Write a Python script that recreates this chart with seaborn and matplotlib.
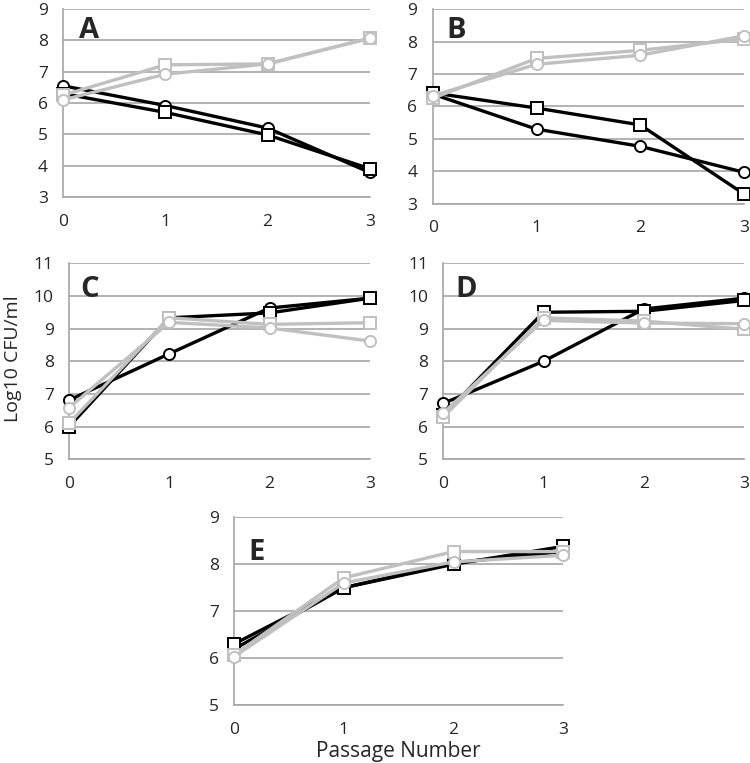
import numpy as np
import pandas as pd
import matplotlib
matplotlib.use("Agg")
import matplotlib.pyplot as plt
import seaborn as sns

# --- data ---
passages = [0, 1, 2, 3]

a_black_circle = [6.55, 5.92, 5.20, 3.78]
a_black_square = [6.30, 5.70, 4.98, 3.90]
a_gray_square = [6.25, 7.22, 7.25, 8.07]
a_gray_circle = [6.10, 6.92, 7.25, 8.07]

b_black_circle = [6.38, 5.30, 4.77, 3.97]
b_black_square = [6.42, 5.95, 5.43, 3.30]
b_gray_square = [6.25, 7.48, 7.73, 8.08]
b_gray_circle = [6.33, 7.30, 7.58, 8.18]

c_black_circle = [6.81, 8.23, 9.63, 9.93]
c_black_square = [6.00, 9.33, 9.48, 9.93]
c_gray_square = [6.10, 9.33, 9.13, 9.18]
c_gray_circle = [6.58, 9.19, 9.02, 8.62]

d_black_circle = [6.71, 8.00, 9.60, 9.93]
d_black_square = [6.35, 9.50, 9.53, 9.86]
d_gray_square = [6.30, 9.33, 9.23, 8.98]
d_gray_circle = [6.42, 9.25, 9.17, 9.15]

e_black_circle = [6.19, 7.50, 8.03, 8.27]
e_black_square = [6.30, 7.50, 8.00, 8.38]
e_gray_square = [6.07, 7.71, 8.27, 8.27]
e_gray_circle = [6.03, 7.60, 8.05, 8.19]

panels = {
    "A": (a_black_circle, a_black_square, a_gray_square, a_gray_circle),
    "B": (b_black_circle, b_black_square, b_gray_square, b_gray_circle),
    "C": (c_black_circle, c_black_square, c_gray_square, c_gray_circle),
    "D": (d_black_circle, d_black_square, d_gray_square, d_gray_circle),
    "E": (e_black_circle, e_black_square, e_gray_square, e_gray_circle),
}
y_ranges = {"A": (3, 9), "B": (3, 9), "C": (5, 11), "D": (5, 11), "E": (5, 9)}

# axes boxes in figure fractions [left, bottom, width, height]
boxes = {
    "A": [0.084, 0.742, 0.409, 0.246],
    "B": [0.577, 0.733, 0.415, 0.255],
    "C": [0.092, 0.398, 0.401, 0.257],
    "D": [0.591, 0.398, 0.401, 0.257],
    "E": [0.312, 0.076, 0.439, 0.246],
}
# panel letter positions (axes fractions)
letter_pos = {
    "A": (0.052, 0.965),
    "B": (0.045, 0.965),
    "C": (0.037, 0.94),
    "D": (0.04, 0.94),
    "E": (0.043, 0.89),
}

sns.set_style("white")
plt.rcParams['font.family'] = ['Open Sans', 'DejaVu Sans']

BLACK = "#000000"
GRAY = "#c0c0c0"
AX_GRAY = "#a6a6a6"

fig = plt.figure(figsize=(7.5, 7.63), dpi=100)

for name, series in panels.items():
    ax = fig.add_axes(boxes[name])
    black_c, black_s, gray_s, gray_c = series
    styles = [
        (black_c, BLACK, "o"),
        (black_s, BLACK, "s"),
        (gray_s, GRAY, "s"),
        (gray_c, GRAY, "o"),
    ]
    for vals, col, mk in styles:
        sns.lineplot(x=passages, y=vals, ax=ax, color=col, linewidth=2.4,
                     marker=mk, markersize=8, markerfacecolor="white",
                     markeredgecolor=col, markeredgewidth=1.4, clip_on=False,
                     zorder=3)
    lo, hi = y_ranges[name]
    ax.set_xlim(0, 3)
    ax.set_ylim(lo, hi)
    ax.set_xticks(passages)
    ax.set_yticks(np.arange(lo, hi + 1))
    ax.yaxis.grid(True, color=AX_GRAY, linewidth=1.2)
    ax.set_axisbelow(True)
    for side in ["top", "right"]:
        ax.spines[side].set_visible(False)
    for side in ["left", "bottom"]:
        ax.spines[side].set_color(AX_GRAY)
        ax.spines[side].set_linewidth(1.2)
    ax.tick_params(axis="both", direction="out", length=5, width=1.2,
                   color=AX_GRAY, labelsize=12.5, pad=6)
    ax.tick_params(axis="x", length=6)
    lx, ly = letter_pos[name]
    ax.text(lx, ly, name, transform=ax.transAxes, fontsize=21,
            fontweight="bold", va="top", ha="left")
    ax.set_xlabel("")
    ax.set_ylabel("")

fig.text(0.018, 0.53, "Log10 CFU/ml", rotation=90, va="center", ha="center",
         fontsize=14)
fig.text(0.531, 0.015, "Passage Number", va="center", ha="center", fontsize=15)

fig.savefig("out.png", dpi=100)
